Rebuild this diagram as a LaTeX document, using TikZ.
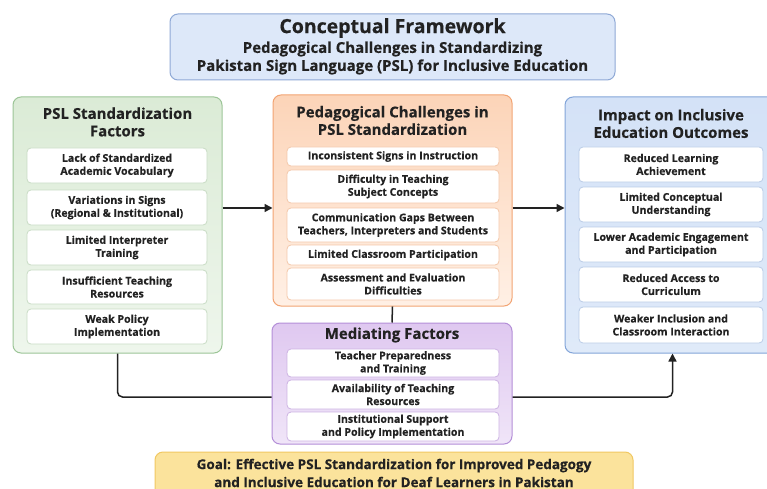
\documentclass[tikz,border=0pt]{standalone}
\usepackage{fontspec}
\setmainfont{Open Sans}[BoldFeatures={FakeBold=0.4}]
\usetikzlibrary{arrows.meta,calc}

\definecolor{ink}{HTML}{222222}
\definecolor{titlefill}{HTML}{DDE8F9}
\definecolor{titleedge}{HTML}{8FA9D6}
\definecolor{grtop}{HTML}{DBEBD6}
\definecolor{grbot}{HTML}{EEF6EC}
\definecolor{gredge}{HTML}{9CC597}
\definecolor{grin}{HTML}{C9DCC5}
\definecolor{ortop}{HTML}{FCD4B8}
\definecolor{orbot}{HTML}{FFF0E5}
\definecolor{oredge}{HTML}{F2A473}
\definecolor{orin}{HTML}{F4C8AA}
\definecolor{bltop}{HTML}{D4E2F7}
\definecolor{blbot}{HTML}{DFEAF9}
\definecolor{bledge}{HTML}{83A5D9}
\definecolor{blin}{HTML}{BACCE7}
\definecolor{putop}{HTML}{DFC8F0}
\definecolor{pubot}{HTML}{F0E5F8}
\definecolor{puedge}{HTML}{B48FD8}
\definecolor{puin}{HTML}{CDB3E3}
\definecolor{goalfill}{HTML}{FBE39C}
\definecolor{goaledge}{HTML}{F1C862}

\tikzset{
  panel/.style={rectangle, rounded corners=8pt, line width=1pt, inner sep=0pt},
  item/.style={rectangle, rounded corners=4pt, draw, fill=white, line width=0.8pt,
    inner sep=0pt, align=center, text=ink,
    font=\fontsize{10.6}{13}\selectfont\bfseries},
  head/.style={align=center, text=ink, font=\fontsize{15}{17.5}\selectfont\bfseries},
  link/.style={line width=1.5pt, draw=ink, rounded corners=5pt},
  tip/.style={-{Triangle[length=8pt,width=8pt]}}
}

% \mkitem{name}{centre x}{top}{bottom}{width}{edge colour}{text}
\newcommand\mkitem[7]{%
  \node[item, draw=#6, minimum width=#5pt, minimum height={(#4-#3)*1pt}]
    (#1) at ({#2},{(#3+#4)/2}) {#7};}

\begin{document}
\begin{tikzpicture}[x=1pt,y=-1pt]
\useasboundingbox (0,0) rectangle (767,489);
\clip (0,0) rectangle (767,489);
\fill[white] (0,0) rectangle (767,489);

% title banner
\node[panel, fill=titlefill, draw=titleedge, minimum width=445pt, minimum height=66pt]
  (banner) at (392.5,47) {};
\node[text=ink, font=\fontsize{19.5}{22}\selectfont\bfseries] (maintitle) at (392.5,28) {Conceptual Framework};
\node[align=center, text=ink, font=\fontsize{15}{18}\selectfont\bfseries] (subtitle) at (392.5,58)
  {Pedagogical Challenges in Standardizing\\Pakistan Sign Language (PSL) for Inclusive Education};

% PSL standardization factors
\node[panel, top color=grtop, bottom color=grbot, draw=gredge, minimum width=209pt, minimum height=256pt]
  (gr) at (117.5,225) {};
\node[head] (grhead) at (117.5,122) {PSL Standardization\\Factors};
\mkitem{g1}{117}{148}{183}{180}{grin}{Lack of Standardized\\Academic Vocabulary}
\mkitem{g2}{117}{190}{225}{180}{grin}{Variations in Signs\\(Regional \& Institutional)}
\mkitem{g3}{117}{230}{265}{180}{grin}{Limited Interpreter\\Training}
\mkitem{g4}{117}{270}{304}{180}{grin}{Insufficient Teaching\\Resources}
\mkitem{g5}{117}{309}{344}{180}{grin}{Weak Policy\\Implementation}

% pedagogical challenges
\node[panel, top color=ortop, bottom color=orbot, draw=oredge, minimum width=239pt, minimum height=211pt]
  (or) at (392.5,200.5) {};
\node[head] (orhead) at (392.5,120.5) {Pedagogical Challenges in\\PSL Standardization};
\mkitem{o1}{393}{147}{166}{212}{orin}{Inconsistent Signs in Instruction}
\mkitem{o2}{393}{170}{203}{212}{orin}{Difficulty in Teaching\\Subject Concepts}
\mkitem{o3}{393}{208}{242}{212}{orin}{Communication Gaps Between\\Teachers, Interpreters and Students}
\mkitem{o4}{393}{245}{265}{212}{orin}{Limited Classroom Participation}
\mkitem{o5}{393}{268}{300}{212}{orin}{Assessment and Evaluation\\Difficulties}

% impact on outcomes
\node[panel, top color=bltop, bottom color=blbot, draw=bledge, minimum width=215pt, minimum height=256pt]
  (bl) at (672.5,225) {};
\node[head] (blhead) at (671,123.5) {Impact on Inclusive\\Education Outcomes};
\mkitem{b1}{671}{147}{182}{184}{blin}{Reduced Learning\\Achievement}
\mkitem{b2}{671}{187}{222}{184}{blin}{Limited Conceptual\\Understanding}
\mkitem{b3}{671}{227}{262}{184}{blin}{Lower Academic Engagement\\and Participation}
\mkitem{b4}{671}{267}{302}{184}{blin}{Reduced Access to\\Curriculum}
\mkitem{b5}{671}{307}{343}{184}{blin}{Weaker Inclusion and\\Classroom Interaction}

% mediating factors
\node[panel, top color=putop, bottom color=pubot, draw=puedge, minimum width=240pt, minimum height=121pt]
  (mp) at (392,383.5) {};
\node[head] (mphead) at (392,335) {Mediating Factors};
\mkitem{m1}{393}{349}{377}{212}{puin}{Teacher Preparedness\\and Training}
\mkitem{m2}{393}{380}{409}{212}{puin}{Availability of Teaching\\Resources}
\mkitem{m3}{393}{412}{441}{212}{puin}{Institutional Support\\and Policy Implementation}

% goal
\node[panel, fill=goalfill, draw=goaledge, minimum width=478pt, minimum height=56pt]
  (goal) at (394,480) {};
\node[align=center, text=ink, font=\fontsize{13.5}{18}\selectfont\bfseries] (goaltext) at (394,473)
  {Goal: Effective PSL Standardization for Improved Pedagogy\\and Inclusive Education for Deaf Learners in Pakistan};

% connectors
\coordinate (toprail) at (0,208);
\coordinate (lowrail) at (0,397);
\draw[link, tip] (toprail -| gr.east) -- (toprail -| or.west);
\draw[link, tip] (toprail -| or.east) -- (toprail -| bl.west);
\draw[link] (or.south) -- (mp.north);
\draw[link] (gr.south) |- (lowrail -| mp.west);
\draw[link, tip] (lowrail -| mp.east) -| (bl.south);
\end{tikzpicture}
\end{document}
